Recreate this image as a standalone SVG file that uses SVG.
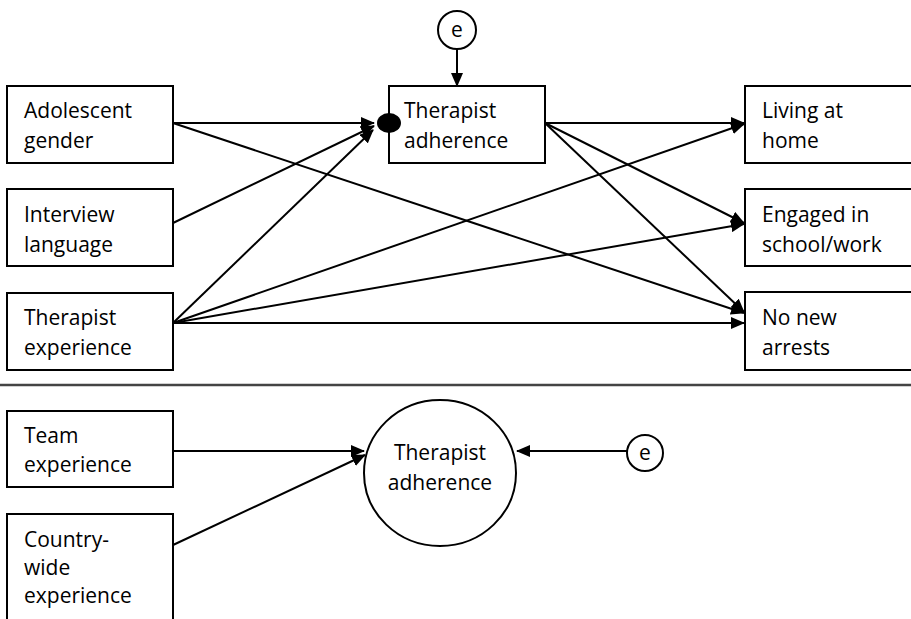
<svg xmlns="http://www.w3.org/2000/svg" width="911" height="619" viewBox="0 0 911 619">
<style>
.box{fill:#fff;stroke:#000;stroke-width:2}
.t{font-family:"Open Sans","Noto Sans",sans-serif;font-size:21px;fill:#000}
.c{stroke:#000;stroke-width:2;fill:none}
</style>
<defs>
<marker id="ah" viewBox="0 0 14 12" refX="13" refY="6" markerWidth="14" markerHeight="12" markerUnits="userSpaceOnUse" orient="auto">
<path d="M0,0 L14,6 L0,12 Z" fill="#000"/>
</marker>
</defs>
<rect width="911" height="619" fill="#fff"/>
<line x1="0" y1="385" x2="911" y2="385" stroke="#444" stroke-width="2.5"/>
<g id="connectors">
<line class="c" x1="173" y1="123" x2="374" y2="123" marker-end="url(#ah)"/>
<line class="c" x1="173" y1="223" x2="374" y2="126" marker-end="url(#ah)"/>
<line class="c" x1="173" y1="323" x2="373" y2="130" marker-end="url(#ah)"/>
<line class="c" x1="173" y1="123" x2="744" y2="313" marker-end="url(#ah)"/>
<line class="c" x1="173" y1="323" x2="744" y2="124" marker-end="url(#ah)"/>
<line class="c" x1="173" y1="323" x2="744" y2="224" marker-end="url(#ah)"/>
<line class="c" x1="173" y1="323" x2="744" y2="323" marker-end="url(#ah)"/>
<line class="c" x1="545" y1="123" x2="744" y2="123" marker-end="url(#ah)"/>
<line class="c" x1="545" y1="123" x2="744" y2="223" marker-end="url(#ah)"/>
<line class="c" x1="545" y1="123" x2="744" y2="312" marker-end="url(#ah)"/>
<line class="c" x1="457" y1="49" x2="457" y2="86" marker-end="url(#ah)"/>
<line class="c" x1="173" y1="451" x2="364" y2="451" marker-end="url(#ah)"/>
<line class="c" x1="173" y1="545" x2="365" y2="455" marker-end="url(#ah)"/>
<line class="c" x1="627" y1="451" x2="517" y2="451" marker-end="url(#ah)"/>
</g>
<g id="adolescent-gender">
<rect class="box" x="7" y="86" width="166" height="77"/>
<text class="t" x="24" y="118">Adolescent</text>
<text class="t" x="24" y="148">gender</text>
</g>
<g id="interview-language">
<rect class="box" x="7" y="189" width="166" height="77"/>
<text class="t" x="24" y="222">Interview</text>
<text class="t" x="24" y="252">language</text>
</g>
<g id="therapist-experience">
<rect class="box" x="7" y="293" width="166" height="77"/>
<text class="t" x="24" y="325">Therapist</text>
<text class="t" x="24" y="355">experience</text>
</g>
<g id="error-top">
<circle cx="457" cy="30" r="19" fill="#fff" stroke="#000" stroke-width="2"/>
<text class="t" x="457" y="37" text-anchor="middle">e</text>
</g>
<g id="therapist-adherence">
<rect class="box" x="389" y="86" width="156" height="77"/>
<ellipse cx="389" cy="123" rx="12" ry="10" fill="#000"/>
<text class="t" x="404" y="118">Therapist</text>
<text class="t" x="404" y="148">adherence</text>
</g>
<g id="living-at-home">
<rect class="box" x="745" y="86" width="170" height="77"/>
<text class="t" x="762" y="118">Living at</text>
<text class="t" x="762" y="148">home</text>
</g>
<g id="engaged">
<rect class="box" x="745" y="189" width="170" height="77"/>
<text class="t" x="762" y="222">Engaged in</text>
<text class="t" x="762" y="252">school/work</text>
</g>
<g id="no-new-arrests">
<rect class="box" x="745" y="292" width="170" height="78"/>
<text class="t" x="762" y="325">No new</text>
<text class="t" x="762" y="355">arrests</text>
</g>
<g id="team-experience">
<rect class="box" x="7" y="411" width="166" height="76"/>
<text class="t" x="24" y="443">Team</text>
<text class="t" x="24" y="472">experience</text>
</g>
<g id="countrywide-experience">
<rect class="box" x="7" y="514" width="166" height="120"/>
<text class="t" x="24" y="547">Country-</text>
<text class="t" x="24" y="575">wide</text>
<text class="t" x="24" y="603">experience</text>
</g>
<g id="therapist-adherence-2">
<ellipse cx="440" cy="473" rx="76" ry="73" fill="#fff" stroke="#000" stroke-width="2"/>
<text class="t" x="440" y="460" text-anchor="middle">Therapist</text>
<text class="t" x="440" y="490" text-anchor="middle">adherence</text>
</g>
<g id="error-bottom">
<circle cx="645" cy="453" r="18" fill="#fff" stroke="#000" stroke-width="2"/>
<text class="t" x="645" y="460" text-anchor="middle">e</text>
</g>
</svg>
